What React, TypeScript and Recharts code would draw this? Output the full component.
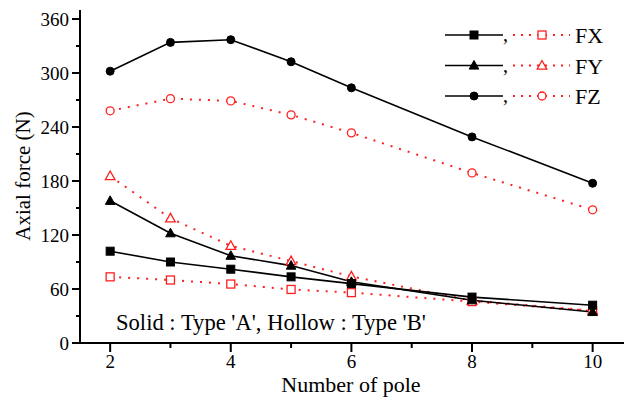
import { Legend, Line, LineChart, XAxis, YAxis } from 'recharts'

// number of poles on the x axis
const poles = [2, 3, 4, 5, 6, 8, 10]

// solid markers = type 'A', hollow markers = type 'B'
const fxTypeA = [102, 90, 82, 73.5, 66, 51, 42]
const fxTypeB = [73.5, 70, 65.5, 59.5, 56, 46, 35.5]
const fyTypeA = [158, 122, 97, 86, 68, 47.5, 34.5]
const fyTypeB = [185.5, 138.5, 108, 91, 74, 47, 36]
const fzTypeA = [302, 334, 337, 312.5, 283.5, 229, 177.5]
const fzTypeB = [258, 271.5, 269, 253.5, 233.5, 189, 148]

const xTicks = [2, 3, 4, 5, 6, 7, 8, 9, 10]
const xLabels = [2, 4, 6, 8, 10]
const yTicks = [0, 30, 60, 90, 120, 150, 180, 210, 240, 270, 300, 330, 360]
const yLabels = [0, 60, 120, 180, 240, 300, 360]

const legendRows = ['FX', 'FY', 'FZ']

const FONT = '"Liberation Serif", "Times New Roman", serif'
const RED = '#ff1f1f'

const data = poles.map((pole, i) => ({
  pole,
  fxA: fxTypeA[i],
  fxB: fxTypeB[i],
  fyA: fyTypeA[i],
  fyB: fyTypeB[i],
  fzA: fzTypeA[i],
  fzB: fzTypeB[i],
}))

type Shape = 'square' | 'triangle' | 'circle'

function Marker({ cx, cy, shape, filled }: { cx: number; cy: number; shape: Shape; filled: boolean }) {
  const fill = filled ? '#000' : '#fff'
  const stroke = filled ? '#000' : RED
  const sw = filled ? 1 : 1.3
  if (shape === 'square') {
    return <rect x={cx - 4} y={cy - 4} width={8} height={8} fill={fill} stroke={stroke} strokeWidth={sw} />
  }
  if (shape === 'triangle') {
    return (
      <polygon
        points={`${cx},${cy - 5} ${cx + 4.8},${cy + 3.6} ${cx - 4.8},${cy + 3.6}`}
        fill={fill}
        stroke={stroke}
        strokeWidth={sw}
      />
    )
  }
  return <circle cx={cx} cy={cy} r={4} fill={fill} stroke={stroke} strokeWidth={sw} />
}

const makeDot = (shape: Shape, filled: boolean) => (props: any) => (
  <Marker key={props.index} cx={props.cx} cy={props.cy} shape={shape} filled={filled} />
)

function XTick(props: any) {
  const { x, y, payload } = props
  const major = xLabels.includes(payload.value)
  return (
    <g>
      <line x1={x} x2={x} y1={y} y2={y + (major ? 9 : 5)} stroke="#000" strokeWidth={2} />
      {major ? (
        <text x={x} y={y + 25} textAnchor="middle" fontSize={19} fontFamily={FONT} fill="#000">
          {payload.value}
        </text>
      ) : null}
    </g>
  )
}

function YTick(props: any) {
  const { x, y, payload } = props
  const major = yLabels.includes(payload.value)
  return (
    <g>
      <line x1={x} x2={x - (major ? 8 : 4)} y1={y} y2={y} stroke="#000" strokeWidth={2} />
      {major ? (
        <text x={x - 11} y={y + 6.5} textAnchor="end" fontSize={19} fontFamily={FONT} fill="#000">
          {payload.value}
        </text>
      ) : null}
    </g>
  )
}

function renderLegend() {
  const shapes: Shape[] = ['square', 'triangle', 'circle']
  return (
    <svg width={180} height={95} style={{ display: 'block' }}>
      {legendRows.map((name, i) => {
        const cy = 15 + i * 30.5
        return (
          <g key={name}>
            <line x1={5} x2={63} y1={cy} y2={cy} stroke="#000" strokeWidth={1.6} />
            <Marker cx={34} cy={cy} shape={shapes[i]} filled />
            <text x={63} y={cy + 6} fontSize={20} fontFamily={FONT} fill="#000">
              ,
            </text>
            <line x1={73} x2={130} y1={cy} y2={cy} stroke={RED} strokeWidth={2} strokeDasharray="2 6" />
            <Marker cx={102} cy={cy} shape={shapes[i]} filled={false} />
            <text x={135} y={cy + 8} fontSize={22} fontFamily={FONT} fill="#000">
              {name}
            </text>
          </g>
        )
      })}
    </svg>
  )
}

export default function App() {
  return (
    <div style={{ position: 'absolute', left: 0, top: 0, width: 629, height: 397, background: '#fff', fontFamily: FONT }}>
      <LineChart width={629} height={397} data={data} margin={{ top: 10, right: 5, left: 0, bottom: 0 }}>
        <XAxis
          dataKey="pole"
          type="number"
          domain={[1.5, 10.52]}
          ticks={xTicks}
          interval={0}
          height={54}
          tickSize={0}
          tickMargin={0}
          tickLine={false}
          tick={<XTick />}
          axisLine={{ stroke: '#000', strokeWidth: 2 }}
          label={{
            content: () => (
              <text x={351} y={392} textAnchor="middle" fontSize={22} fontFamily={FONT} fill="#000">
                Number of pole
              </text>
            ),
          }}
        />
        <XAxis xAxisId="top" dataKey="pole" type="number" domain={[1.5, 10.52]} orientation="top" height={0} tick={false} tickLine={false} axisLine={{ stroke: '#000', strokeWidth: 2 }} />
        <YAxis
          type="number"
          domain={[0, 370]}
          ticks={yTicks}
          interval={0}
          width={80}
          tickSize={0}
          tickMargin={0}
          tickLine={false}
          tick={<YTick />}
          axisLine={{ stroke: '#000', strokeWidth: 2 }}
          label={{
            content: () => (
              <text x={30} y={176} transform="rotate(-90 30 176)" textAnchor="middle" fontSize={21} fontFamily={FONT} fill="#000">
                Axial force (N)
              </text>
            ),
          }}
        />
        <YAxis yAxisId="right" orientation="right" domain={[0, 370]} width={0} tick={false} tickLine={false} axisLine={{ stroke: '#000', strokeWidth: 2 }} />
        <Legend
          layout="vertical"
          align="center"
          verticalAlign="middle"
          content={renderLegend}
          wrapperStyle={{ left: 440, top: 20, width: 180, height: 95 }}
        />
        <Line dataKey="fzA" stroke="#000" strokeWidth={1.6} dot={makeDot('circle', true)} isAnimationActive={false} />
        <Line dataKey="fzB" stroke={RED} strokeWidth={2} strokeDasharray="2 7" dot={makeDot('circle', false)} isAnimationActive={false} />
        <Line dataKey="fyB" stroke={RED} strokeWidth={2} strokeDasharray="2 7" dot={makeDot('triangle', false)} isAnimationActive={false} />
        <Line dataKey="fxB" stroke={RED} strokeWidth={2} strokeDasharray="2 7" dot={makeDot('square', false)} isAnimationActive={false} />
        <Line dataKey="fyA" stroke="#000" strokeWidth={1.6} dot={makeDot('triangle', true)} isAnimationActive={false} />
        <Line dataKey="fxA" stroke="#000" strokeWidth={1.6} dot={makeDot('square', true)} isAnimationActive={false} />
      </LineChart>
      <svg width={629} height={397} style={{ position: 'absolute', left: 0, top: 0, pointerEvents: 'none' }}>
        <text x={116} y={330} fontSize={22.6} fontFamily={FONT} fill="#000">
          Solid : Type 'A', Hollow : Type 'B'
        </text>
      </svg>
    </div>
  )
}
